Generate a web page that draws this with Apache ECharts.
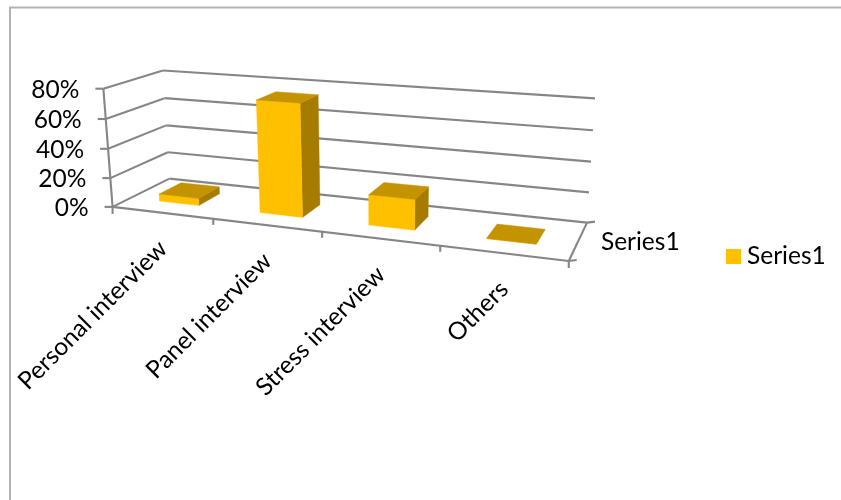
<!DOCTYPE html>
<html><head><meta charset="utf-8">
<style>html,body{margin:0;padding:0;background:#fff}#c{width:841px;height:500px}</style>
<script src="https://cdn.jsdelivr.net/npm/echarts@6/dist/echarts.min.js"></script>
</head><body><div id="c"></div>
<script>
const categories = ['Personal interview','Panel interview','Stress interview','Others'];
const seriesName = 'Series1';
const values = [5, 75, 20, 0];
const yTicks = [0, 20, 40, 60, 80];
const yMax = 80;

const FONT = '24.5px Lato, "Open Sans", sans-serif';
const GRID = {left:113, top:89, width:456, height:118};

// Perspective view of the chart box, fitted to how the box sits on the page.
// Each entry: [u across, v up, d depth, screen x, screen y]
const view = [
 [0,0,0,113,207],[0,.25,0,110,178],[0,.5,0,107.5,148],[0,.75,0,106,119],[0,1,0,104,89],
 [0,0,1,170,179],[0,.25,1,168,152],[0,.5,1,166,126],[0,.75,1,164,98],[0,1,1,163,70],
 [1,0,1,587,222],[1,.25,1,589,192],[1,.5,1,591,162],[1,.75,1,593,130],[1,1,1,595,99],
 [1,0,0,569,261],[.25,0,0,213,219],[.5,0,0,322,232],[.75,0,0,440,246]
];
function solve(A,b){const n=b.length;for(let i=0;i<n;i++){let p=i;for(let r=i+1;r<n;r++)if(Math.abs(A[r][i])>Math.abs(A[p][i]))p=r;
 [A[i],A[p]]=[A[p],A[i]];[b[i],b[p]]=[b[p],b[i]];
 for(let r=i+1;r<n;r++){const f=A[r][i]/A[i][i];for(let c=i;c<n;c++)A[r][c]-=f*A[i][c];b[r]-=f*b[i];}}
 const x=new Array(n);for(let i=n-1;i>=0;i--){let s=b[i];for(let c=i+1;c<n;c++)s-=A[i][c]*x[c];x[i]=s/A[i][i];}return x;}
const M=(function(){const rows=[],rhs=[];view.forEach(([u,v,d,x,y])=>{
 rows.push([u,v,d,1,0,0,0,0,-x*u,-x*v,-x*d]);rhs.push(x);
 rows.push([0,0,0,0,u,v,d,1,-y*u,-y*v,-y*d]);rhs.push(y);});
 const n=11,A=[],b=[];for(let i=0;i<n;i++){A.push([]);let s=0;for(let j=0;j<n;j++){let t=0;rows.forEach(r=>t+=r[i]*r[j]);A[i].push(t);}
 rows.forEach((r,k)=>s+=r[i]*rhs[k]);b.push(s);}return solve(A,b);})();
function proj(u,v,d){const w=M[8]*u+M[9]*v+M[10]*d+1;return [(M[0]*u+M[1]*v+M[2]*d+M[3])/w,(M[4]*u+M[5]*v+M[6]*d+M[7])/w];}
// through the chart's own axes to the unit box, then into the view
function unit(params,px,py){const c=params.coordSys;return [(px-c.x)/c.width,(c.y+c.height-py)/c.height];}

const LINE={stroke:'#868686',lineWidth:2.1,fill:null};
function seg(a,b){return {type:'line',shape:{x1:a[0],y1:a[1],x2:b[0],y2:b[1]},style:LINE};}
function poly(points,fill){return {type:'polygon',shape:{points},style:{fill,stroke:fill,lineWidth:.4}};}
function txt(text,x,y,align,rot){return {type:'text',x,y,rotation:rot||0,style:{text,x:0,y:0,align,verticalAlign:'middle',font:FONT,fill:'#000'}};}

function renderWalls(params,api){
 const p=api.coord([0,api.value(1)]);const v=unit(params,p[0],p[1])[1];
 const f=proj(0,v,0),b=proj(0,v,1),r=proj(1,v,1);
 return {type:'group',children:[seg(f,b),seg(b,r),seg(f,[f[0]-8,f[1]]),txt(api.value(1)+'%',f[0]-24,f[1]+1,'right')]};
}
function renderFloor(params,api){
 const a=proj(0,0,0),e=proj(1,0,0),d=proj(1,0,1),t=proj(0,1,0);
 return {type:'group',children:[seg(a,e),seg(e,d),seg(a,t),seg(e,[e[0],e[1]+7]),seg(a,[a[0],a[1]+7]),
  seg(d,[d[0]+8,d[1]-1]),seg(e,[e[0]+8,e[1]-1]),
  txt(seriesName,(e[0]+d[0])/2+23,(e[1]+d[1])/2,'left')]};
}
function renderCats(params,api){
 const i=api.value(0),p=api.coord([i,0]),band=api.size([1,0])[0];
 const uc=unit(params,p[0],p[1])[0],hu=band/params.coordSys.width/2;
 const tick=proj(uc+hu,0,0),mid=proj(uc,0,0);
 const ch=[txt(categories[i],mid[0]+1,mid[1]+32,'right',Math.PI/4)];
 if(i<categories.length-1)ch.push(seg(tick,[tick[0],tick[1]+6]));
 return {type:'group',children:ch};
}
function renderBar(params,api){
 const i=api.value(0),base=api.coord([i,0]),top=api.coord([i,api.value(1)]),band=api.size([1,0])[0];
 const uc=unit(params,base[0],base[1])[0],v=unit(params,top[0],top[1])[1],hw=.2*band/params.coordSys.width;
 const u0=uc-hw,u1=uc+hw,d0=.3,d1=.7;
 const F=(u,vv,d)=>proj(u,vv,d);
 return {type:'group',children:[
  poly([F(u1,0,d0),F(u1,0,d1),F(u1,v,d1),F(u1,v,d0)],'#A67C00'),
  poly([F(u0,0,d0),F(u1,0,d0),F(u1,v,d0),F(u0,v,d0)],'#FFC000'),
  poly([F(u0,v,d0),F(u1,v,d0),F(u1,v,d1),F(u0,v,d1)],'#C49300')]};
}
const common={type:'custom',coordinateSystem:'cartesian2d',clip:false,silent:true,encode:{x:0,y:1},animation:false};
const chart=echarts.init(document.getElementById('c'),null,{renderer:'canvas'});
chart.setOption({
 animation:false,backgroundColor:'#fff',
 grid:Object.assign({containLabel:false},GRID),
 xAxis:{type:'category',data:categories,show:false},
 yAxis:{type:'value',min:0,max:yMax,interval:20,show:false},
 legend:{data:[seriesName],left:721,top:239,icon:'rect',itemWidth:15,itemHeight:15,itemGap:0,
  textStyle:{fontFamily:'Lato',fontSize:24.5,color:'#000',padding:[0,0,0,1]},selectedMode:false},
 graphic:[{type:'polyline',silent:true,shape:{points:[[10,500],[10,7.5],[841,7.5]]},style:{stroke:'#B3B3B3',lineWidth:2,fill:null}}],
 series:[
  Object.assign({},common,{name:'walls',data:yTicks.map(t=>[0,t]),renderItem:renderWalls,z:1}),
  Object.assign({},common,{name:'floor',data:[[0,0]],renderItem:renderFloor,z:2}),
  Object.assign({},common,{name:'cats',data:categories.map((c,i)=>[i,0]),renderItem:renderCats,z:2}),
  Object.assign({},common,{name:seriesName,data:values.map((v,i)=>[i,v]),renderItem:renderBar,z:3,itemStyle:{color:'#FFC000'}})
 ]
});
</script></body></html>
